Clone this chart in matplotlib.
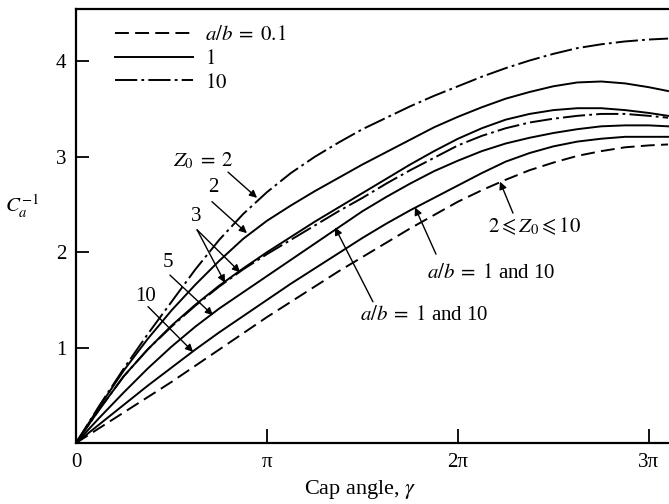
import numpy as np
import matplotlib
matplotlib.use("Agg")
import matplotlib.pyplot as plt

plt.rcParams['font.family'] = ['Liberation Serif', 'DejaVu Serif']
plt.rcParams['mathtext.fontset'] = 'stix'
plt.rcParams['lines.scale_dashes'] = False

# cap angle in units of pi
gamma = np.array([0, 0.125, 0.25, 0.375, 0.5, 0.625, 0.75, 0.875, 1.0, 1.125, 1.25, 1.375, 1.5,
                  1.625, 1.75, 1.875, 2.0, 2.125, 2.25, 2.375, 2.5, 2.625, 2.75, 2.875, 3.0, 3.1])

# C_a^-1
z2_ab10 = [0, 0.40, 0.78, 1.14, 1.48, 1.82, 2.13, 2.40, 2.63, 2.83, 3.00, 3.15, 3.29,
           3.41, 3.53, 3.64, 3.74, 3.84, 3.93, 4.01, 4.08, 4.14, 4.18, 4.21, 4.23, 4.24]
z2_ab1 = [0, 0.39, 0.76, 1.09, 1.39, 1.66, 1.91, 2.14, 2.33, 2.49, 2.64, 2.78, 2.92,
          3.05, 3.18, 3.31, 3.42, 3.52, 3.61, 3.68, 3.74, 3.78, 3.79, 3.77, 3.73, 3.69]
z3_ab1 = [0, 0.36, 0.70, 0.98, 1.23, 1.45, 1.65, 1.83, 2.00, 2.16, 2.32, 2.47, 2.62,
          2.77, 2.92, 3.06, 3.19, 3.30, 3.39, 3.45, 3.49, 3.51, 3.51, 3.49, 3.46, 3.43]
z3_ab10 = [0, 0.36, 0.70, 0.98, 1.22, 1.44, 1.64, 1.82, 1.98, 2.13, 2.28, 2.43, 2.57,
           2.72, 2.86, 2.99, 3.12, 3.22, 3.30, 3.36, 3.40, 3.43, 3.45, 3.45, 3.43, 3.41]
z5 = [0, 0.27, 0.53, 0.78, 1.01, 1.22, 1.41, 1.58, 1.75, 1.92, 2.09, 2.26, 2.43,
      2.58, 2.72, 2.85, 2.96, 3.06, 3.14, 3.20, 3.25, 3.29, 3.32, 3.33, 3.33, 3.32]
z10 = [0, 0.20, 0.40, 0.60, 0.79, 0.98, 1.16, 1.33, 1.50, 1.67, 1.83, 1.99, 2.15,
       2.30, 2.44, 2.57, 2.70, 2.83, 2.95, 3.04, 3.11, 3.16, 3.19, 3.21, 3.21, 3.21]
ab01 = [0, 0.16, 0.32, 0.48, 0.64, 0.81, 0.98, 1.15, 1.32, 1.48, 1.64, 1.80, 1.95,
        2.10, 2.25, 2.39, 2.53, 2.65, 2.76, 2.86, 2.94, 3.01, 3.06, 3.10, 3.12, 3.13]

legend_labels = [r'$a/b\;=\;0.1$', r'$1$', r'$10$']

DASH = (0, (10, 4.5))
DASHDOT = (0, (16, 3, 2, 3))

fig = plt.figure(figsize=(6.69, 5.04), dpi=100)
ax = fig.add_axes([76 / 669, 61 / 504, 593 / 669, 434 / 504])

x = gamma * np.pi
lw = 1.4
ax.plot(x, ab01, color='k', lw=lw, linestyle=DASH, label=legend_labels[0])
ax.plot(x, z2_ab1, color='k', lw=lw, label=legend_labels[1])
ax.plot(x, z2_ab10, color='k', lw=lw, linestyle=DASHDOT, label=legend_labels[2])
ax.plot(x, z3_ab1, color='k', lw=lw)
ax.plot(x, z3_ab10, color='k', lw=lw, linestyle=DASHDOT)
ax.plot(x, z5, color='k', lw=lw)
ax.plot(x, z10, color='k', lw=lw)

ax.set_xlim(0, 3.105 * np.pi)
ax.set_ylim(0, 4.55)

ax.set_xticks([0, np.pi, 2 * np.pi, 3 * np.pi])
ax.set_xticklabels(['0', 'π', '2π', '3π'])
ax.set_yticks([1, 2, 3, 4])
ax.tick_params(direction='in', length=9, width=1.3, labelsize=15, pad=7)
ax.tick_params(axis='x', length=10)
for s in ['left', 'bottom', 'top']:
    ax.spines[s].set_linewidth(1.6)
ax.spines['right'].set_visible(False)

ax.set_xlabel(r'Cap angle, $\gamma$', fontsize=16)
ax.xaxis.set_label_coords(0.479, -0.08)
fig.text(22 / 669, 1 - 206 / 504, r'$C_a^{-1}$', fontsize=15, ha='center', va='center')

ax.legend(loc='upper left', bbox_to_anchor=(0.066, 0.962), frameon=False,
          fontsize=15, handlelength=3.75, handletextpad=0.55, labelspacing=0.2,
          borderpad=0, borderaxespad=0)

P = np.pi
arrow = dict(arrowstyle='-|>', color='k', lw=1.0, mutation_scale=11, shrinkA=0, shrinkB=0)

def note(text, tx, ty, tips, starts, fs=15):
    ax.text(tx * P, ty, text, fontsize=fs, ha='center', va='center')
    for (sx, sy), (ex, ey) in zip(starts, tips):
        ax.annotate('', xy=(ex * P, ey), xytext=(sx * P, sy), arrowprops=arrow)

note(r'$Z_0\;=\;2$', 0.665, 2.96, [(0.948, 2.57)], [(0.796, 2.84)])
note('2', 0.717, 2.68, [(0.895, 2.20)], [(0.712, 2.53)])
note('3', 0.628, 2.37, [(0.859, 1.79), (0.780, 1.68)], [(0.634, 2.235), (0.634, 2.235)])
note('5', 0.482, 1.89, [(0.717, 1.34)], [(0.492, 1.76)])
note('10', 0.366, 1.54, [(0.613, 0.955)], [(0.377, 1.43)])
note(r'$a/b\;=\;1$ and 10', 2.173, 1.78, [(1.775, 2.47)], [(1.885, 1.98)])
note(r'$a/b\;=\;1$ and 10', 1.822, 1.34, [(1.356, 2.26)], [(1.555, 1.48)])
note(r'$2 \leqslant Z_0 \leqslant 10$', 2.403, 2.27, [(2.220, 2.74)], [(2.288, 2.41)])

fig.savefig('out.png', dpi=100)
